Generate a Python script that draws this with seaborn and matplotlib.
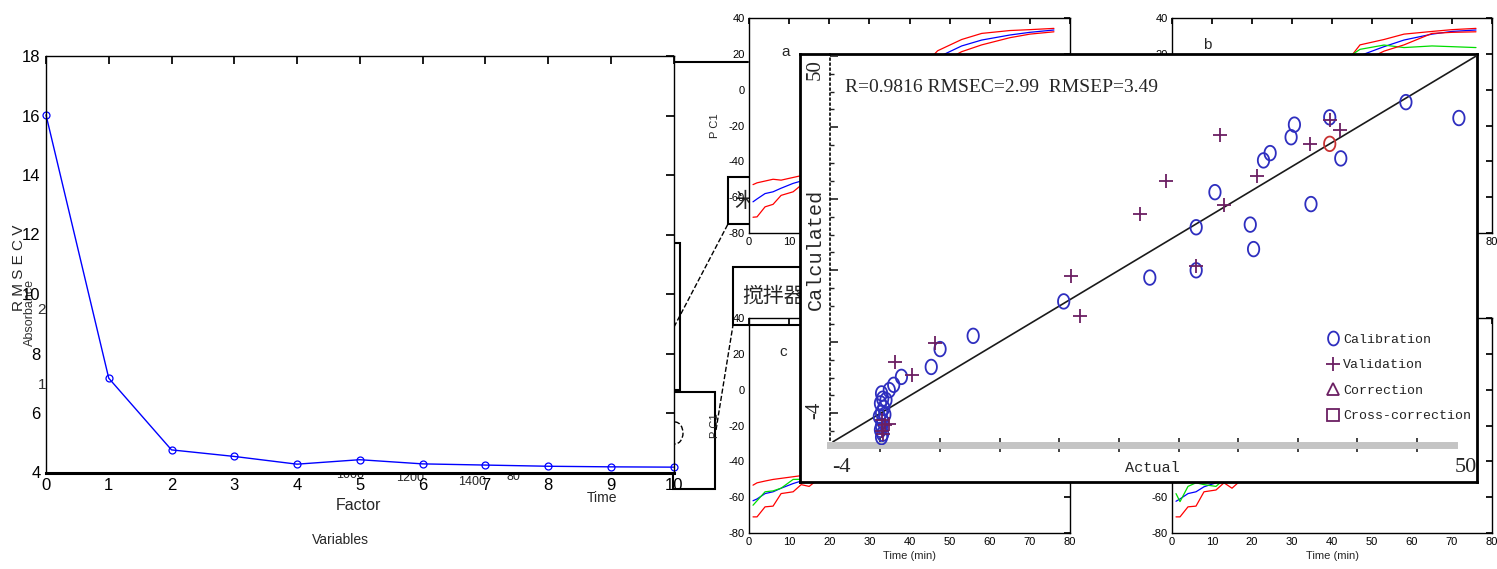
import numpy as np
import matplotlib
matplotlib.use("Agg")
import matplotlib.pyplot as plt
import seaborn as sns
from matplotlib.patches import Rectangle, Arc
from matplotlib.lines import Line2D
from matplotlib.path import Path

# RMSECV curve
factor = [0, 1, 2, 3, 4, 5, 6, 7, 8, 9, 10]
rmsecv = [16.02, 7.17, 4.76, 4.54, 4.28, 4.43, 4.29, 4.25, 4.21, 4.19, 4.18]

# actual vs calculated
cal_actual = [48.4, 43.6, 36.7, 37.7, 33.5, 33.2, 31.3, 30.7, 35.0, 26.3, 24.6, 29.5, 29.8, 24.6,
              20.4, 12.6, 4.4, 1.4, 0.6, -2.1, -2.8, -3.2,
              -3.9, -3.8, -4.0, -3.7, -3.9, -4.1, -3.8, -3.9, -4.0, -3.8, -3.9, -3.5, -3.6]
cal_calc = [40.6, 43.0, 40.7, 34.5, 39.6, 37.7, 35.3, 34.2, 27.6, 29.4, 24.1, 24.5, 20.8, 17.6,
            16.5, 12.9, 7.7, 5.7, 3.0, 1.5, 0.3, -0.5,
            -1.0, -1.8, -2.5, -3.2, -3.9, -4.5, -5.2, -5.9, -6.5, -7.1, -7.6, -2.0, -4.2]
val_actual = [37.6, 34.9, 36.7, 26.8, 30.1, 21.9, 27.1, 19.5, 24.6, 13.3, 14.1, 0.9, -2.7, -1.1,
              -3.9, -3.6, -3.9, -3.2, -3.8]
val_calc = [38.8, 36.7, 40.3, 38.0, 31.9, 31.1, 27.4, 26.1, 18.3, 16.8, 10.7, 6.6, 3.7, 1.8,
            -5.0, -5.8, -6.6, -5.6, -7.2]
corr_actual = [36.7]
corr_calc = [36.7]
fit_line = [-8.3, 50.0]
legend_labels = ["Calibration", "Validation", "Correction", "Cross-correction"]
stats_text = "R=0.9816 RMSEC=2.99  RMSEP=3.49"

# PC1 trajectories of the background panels
time_grid = [1, 2, 4, 6, 8, 11, 13, 15, 20, 30, 40, 47, 53, 58, 65, 70, 76]
a_red_hi = [-53, -52, -51, -50, -50.5, -49, -48, -46, -40, -20, 5, 21.7, 28, 31.4, 33, 33.5, 34.2]
a_blue = [-62.6, -61, -58, -57, -55, -52.3, -51, -49, -44, -25, 0, 18, 24.4, 27.7, 30.5, 32, 33.3]
a_red_lo = [-71.2, -71, -65.4, -64, -59, -57, -53.3, -51, -47, -30, -5, 14, 21.2, 25, 29, 31, 32.3]
b_red_hi = [-53, -52, -51, -50, -50, -49, -48, -46, -40, -20, 5, 25, 28, 31, 32.5, 33.5, 34.2]
b_blue = [-62, -61, -58, -57, -54, -52, -51, -49, -44, -25, 0, 19, 24, 27.7, 31, 32.5, 33.3]
b_green = [-58, -62, -54, -52, -53, -54, -50, -48, -40, -15, 12, 22.5, 24.9, 23.5, 24.4, 24, 23.5]
b_red_lo = [-71, -71, -65.4, -65, -58, -57, -54, -51, -46, -30, -5, 15, 21.5, 25, 31.4, 32, 32.3]
c_red_hi = [-53.3, -52, -51, -50.1, -49.5, -48.6, -48, -46, -40, -20, 0, 12, 20, 25, 28, 30, 31]
c_blue = [-62, -61, -58, -57, -55, -52.4, -51, -49, -44, -25, -5, 8, 15, 20, 25, 27, 28]
c_green = [-64.5, -62, -57, -56.5, -55, -50.1, -50, -48, -40, -22, -3, 10, 16, 21, 26, 27, 27]
c_red_lo = [-71, -71, -65.4, -65, -58, -57, -53, -54, -45, -30, -10, 3, 10, 17, 22, 25, 26]
d_red_hi = [-52, -51, -50, -49, -49, -48, -47, -45, -40, -20, 0, 12, 20, 25, 28, 30, 31]
d_blue = [-62.3, -61, -58, -57, -54.2, -52, -51, -49, -44, -25, -5, 8, 15, 20, 25, 27, 28]
d_green = [-58, -62.5, -54, -52, -53, -54, -50, -49, -40, -22, -3, 10, 16, 21, 26, 27, 27]
d_red_lo = [-71, -71, -65.4, -65, -57, -56, -52, -55, -45, -30, -10, 3, 10, 17, 22, 25, 26]

W, H = 1497, 569
sns.set_theme(style="white")
plt.rcParams['font.family'] = ['Liberation Sans', 'DejaVu Sans']
plt.rcParams['axes.unicode_minus'] = False
CJK = ['Noto Sans CJK SC', 'DejaVu Sans']
SERIF = ['Liberation Serif', 'DejaVu Serif']
MONO = ['Liberation Mono', 'DejaVu Sans Mono']

fig = plt.figure(figsize=(W / 100, H / 100), dpi=100)
fig.patch.set_facecolor('white')


def rect(x0, y0, x1, y1):
    return [x0 / W, 1 - y1 / H, (x1 - x0) / W, (y1 - y0) / H]


def ftext(ax, x, y, s, **kw):
    return ax.text(x / W, 1 - y / H, s, transform=fig.transFigure, **kw)


def pixel_axes(z):
    a = fig.add_axes([0, 0, 1, 1], zorder=z)
    a.set_xlim(0, W)
    a.set_ylim(H, 0)
    a.axis('off')
    a.patch.set_alpha(0)
    return a


# background fragments
bg = pixel_axes(0)
bg.plot([673, 748], [62, 62], color='black', lw=1.5)
bg.add_patch(Rectangle((673, 243), 7, 147, fill=False, ec='black', lw=1.5))
bg.add_patch(Rectangle((673, 392), 42, 97, fill=False, ec='black', lw=1.5))
bg.plot([674, 728], [327, 224], color='black', lw=1, ls='--')
bg.plot([716, 733], [430, 325], color='black', lw=1, ls='--')
bg.add_patch(Arc((675, 433), 16, 22, theta1=-90, theta2=90, color='black', lw=1, ls='--'))
bg.add_patch(Rectangle((728, 177), 80, 47, fill=False, ec='black', lw=1.5))
bg.text(734, 201, "米浆", family=CJK, fontsize=15, va='center', ha='left')
bg.text(30, 312, "Absorbance", rotation=90, fontsize=9, color='#333333', ha='center', va='center')
bg.text(42, 310, "2", fontsize=11, ha='center', va='center', color='#333333')
bg.text(42, 385, "1", fontsize=11, ha='center', va='center', color='#333333')
bg.text(350, 475, "1000", fontsize=9, ha='center', va='center')
bg.text(410, 478, "1200", fontsize=9, ha='center', va='center')
bg.text(472, 482, "1400", fontsize=9, ha='center', va='center')
bg.text(513, 477, "80", fontsize=9, ha='center', va='center')
bg.text(602, 498, "Time", fontsize=10, ha='center', va='center')
bg.text(340, 540, "Variables", fontsize=10, ha='center', va='center')


# PC1 panels
def panel(x0, y0, x1, y1, curves, letter, letter_xy):
    ax = fig.add_axes(rect(x0, y0, x1, y1), zorder=1)
    for vals, col in curves:
        sns.lineplot(x=time_grid, y=vals, ax=ax, color=col, lw=0.9)
    ax.set_xlim(0, 80)
    ax.set_ylim(-80, 40)
    ax.set_xticks(range(0, 81, 10))
    ax.set_yticks(range(-80, 41, 20))
    ax.tick_params(direction='in', top=True, right=True, labelsize=8, length=4, pad=3,
                   colors='black')
    for s in ax.spines.values():
        s.set_color('black')
        s.set_linewidth(1)
    ax.set_xlabel("Time (min)", fontsize=8, labelpad=3)
    ax.set_ylabel("P C1", fontsize=8, labelpad=6)
    ftext(ax, letter_xy[0], letter_xy[1], letter, fontsize=11, ha='center', va='center')
    return ax


panel(749, 18, 1070, 233, [(a_red_hi, '#ff0000'), (a_blue, '#0000ff'), (a_red_lo, '#ff0000')],
      'a', (786, 52))
panel(1172, 18, 1492, 233, [(b_red_hi, '#ff0000'), (b_blue, '#0000ff'), (b_green, '#00dd00'),
                            (b_red_lo, '#ff0000')], 'b', (1207, 45))
panel(749, 318, 1070, 533, [(c_red_hi, '#ff0000'), (c_blue, '#0000ff'), (c_green, '#00dd00'),
                            (c_red_lo, '#ff0000')], 'c', (783, 352))
panel(1172, 318, 1492, 533, [(d_red_hi, '#ff0000'), (d_blue, '#0000ff'), (d_green, '#00dd00'),
                             (d_red_lo, '#ff0000')], 'd', (1207, 352))

mid = pixel_axes(1.5)
mid.add_patch(Rectangle((733, 267), 80, 58, fill=False, ec='black', lw=1.5))
mid.text(742, 296, "搅拌器", family=CJK, fontsize=15, va='center', ha='left')

# RMSECV chart
ax = fig.add_axes(rect(46, 56, 673.5, 472.5), zorder=2)
sns.lineplot(x=factor, y=rmsecv, ax=ax, color='#0000ff', lw=1, marker='o', markersize=5,
             markerfacecolor='none', markeredgecolor='#0000ff', markeredgewidth=0.9, clip_on=False)
ax.set_xlim(0, 10)
ax.set_ylim(4, 18)
ax.set_xticks(factor)
ax.set_yticks(range(4, 19, 2))
ax.tick_params(direction='in', top=True, right=True, labelsize=12, length=6, pad=4, colors='black')
for s in ax.spines.values():
    s.set_color('black')
    s.set_linewidth(1)
ax.spines['bottom'].set_linewidth(2.2)
ax.set_xlabel("")
ax.set_ylabel("")
ftext(ax, 358, 505, "Factor", fontsize=11.5, ha='center', va='center')
ftext(ax, 19, 268, "R M S E C V", fontsize=11, rotation=90, ha='center', va='center')

# actual vs calculated panel
frame = fig.add_axes(rect(800, 54, 1477, 482), zorder=3)
frame.set_xticks([])
frame.set_yticks([])
frame.set_facecolor('white')
for s in frame.spines.values():
    s.set_color('black')
    s.set_linewidth(2)

sc = fig.add_axes(rect(830, 54, 1477, 445), zorder=4)
sc.patch.set_alpha(0)
sc.set_xlim(-8.57, 50.04)
sc.set_ylim(-8.79, 50.27)

theta = np.linspace(0, 2 * np.pi, 60)
ellipse = Path(np.column_stack([0.78 * np.cos(theta), np.sin(theta)]), closed=True)
blue = '#2e2ebf'
purple = '#6b1f62'

sns.lineplot(x=fit_line, y=fit_line, ax=sc, color='#1a1a1a', lw=1.2)
sns.scatterplot(x=cal_actual, y=cal_calc, ax=sc, marker=ellipse, s=110, facecolor='none',
                edgecolor=blue, linewidth=1.3, zorder=3)
sns.scatterplot(x=val_actual, y=val_calc, ax=sc, marker='+', s=90, color=purple,
                linewidth=1.3, zorder=4)
sns.scatterplot(x=corr_actual, y=corr_calc, ax=sc, marker=ellipse, s=110, facecolor='none',
                edgecolor='#c83232', linewidth=1.3, zorder=5)

for side in ['top', 'right']:
    sc.spines[side].set_visible(False)
sc.spines['left'].set_color('black')
sc.spines['left'].set_linewidth(1.2)
sc.spines['left'].set_linestyle((0, (1, 2)))
sc.spines['bottom'].set_color('#c4c4c4')
sc.spines['bottom'].set_linewidth(5)
sc.spines['bottom'].set_bounds(-8.57, 47.96)
sc.set_xticks([-4 + 5.4 * k for k in range(10)])
sc.set_yticks([-4 + 10.8 * k for k in range(6)])
sc.set_yticks([-4 + 2.7 * k for k in range(-1, 21)], minor=True)
sc.tick_params(axis='x', direction='inout', length=10, width=1.2, colors='#222222',
               labelbottom=False, bottom=True)
sc.tick_params(axis='y', which='major', direction='in', length=6, width=1.2, colors='#222222',
               labelleft=False, left=True)
sc.tick_params(axis='y', which='minor', direction='in', length=3, width=1, colors='#222222',
               left=True)

ftext(sc, 845, 88, stats_text, family=SERIF, fontsize=14, ha='left', va='center')
ftext(sc, 841, 468, "-4", family=SERIF, fontsize=16, ha='center', va='center')
ftext(sc, 1152, 468, "Actual", family=MONO, fontsize=11, ha='center', va='center')
ftext(sc, 1466, 468, "50", family=SERIF, fontsize=16, ha='center', va='center')
ftext(sc, 815, 70, "50", family=SERIF, fontsize=15, rotation=90, ha='center', va='center')
ftext(sc, 815, 410, "-4", family=SERIF, fontsize=15, rotation=90, ha='center', va='center')
ftext(sc, 815, 249, "Calculated", family=MONO, fontsize=14.5, rotation=90, ha='center', va='center')

handles = [
    Line2D([], [], ls='', marker=ellipse, ms=10, mfc='none', mec=blue, mew=1.3),
    Line2D([], [], ls='', marker='+', ms=10, mec=purple, mew=1.3),
    Line2D([], [], ls='', marker='^', ms=8, mfc='none', mec=purple, mew=1.3),
    Line2D([], [], ls='', marker='s', ms=9, mfc='none', mec=purple, mew=1.3),
]
sc.legend(handles, legend_labels, loc='upper left', bbox_to_anchor=(1321 / W, 1 - 327 / H),
          bbox_transform=fig.transFigure, frameon=False, prop={'family': MONO, 'size': 9.5},
          handlelength=0.8, handletextpad=0.35, labelspacing=1.0, borderpad=0,
          labelcolor='#222222')

fig.savefig("out.png", dpi=100)
